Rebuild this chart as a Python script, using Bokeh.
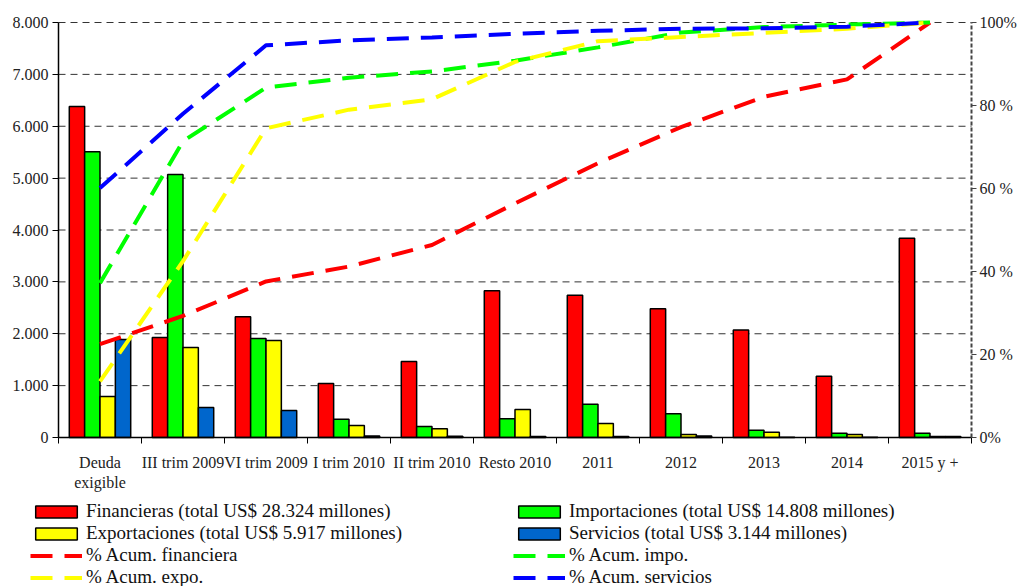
from bokeh.plotting import figure
from bokeh.models import (Range1d, LinearAxis, FixedTicker, Legend, LegendItem,
                          ColumnDataSource)
from bokeh.transform import dodge
from bokeh.embed import file_html
from bokeh.resources import INLINE

# ---------------- data ----------------
categories = ["Deuda\nexigible", "III trim 2009", "VI trim 2009", "I trim 2010",
              "II trim 2010", "Resto 2010", "2011", "2012", "2013", "2014", "2015 y +"]
financieras = [6380, 1930, 2330, 1040, 1465, 2830, 2740, 2480, 2070, 1180, 3840]
importaciones = [5510, 5070, 1910, 350, 210, 360, 640, 460, 140, 80, 80]
exportaciones = [790, 1735, 1870, 230, 170, 540, 270, 60, 100, 60, 20]
servicios = [1890, 580, 520, 30, 25, 20, 20, 30, 5, 5, 20]

acum_fin = [22.5, 29.3, 37.6, 41.2, 46.4, 56.4, 66.1, 74.8, 82.1, 86.3, 100]
acum_impo = [37.2, 71.4, 84.3, 86.7, 88.2, 90.8, 94.0, 97.6, 98.9, 99.5, 100]
acum_expo = [13.5, 42.5, 74.5, 79.0, 81.5, 90.5, 95.5, 96.5, 97.5, 98.5, 100]
acum_serv = [60.1, 78.0, 94.5, 95.7, 96.4, 97.3, 98.0, 98.5, 98.6, 99.0, 100]

left_ticks = [0, 1000, 2000, 3000, 4000, 5000, 6000, 7000, 8000]
left_labels = ["0", "1.000", "2.000", "3.000", "4.000", "5.000", "6.000", "7.000", "8.000"]
right_ticks = [0, 20, 40, 60, 80, 100]
right_labels = ["0%", "20 %", "40 %", "60 %", "80 %", "100%"]

series_labels = ["Financieras (total US$ 28.324 millones)",
                 "Importaciones (total US$ 14.808 millones)",
                 "Exportaciones (total US$ 5.917 millones)",
                 "Servicios (total US$ 3.144 millones)",
                 "% Acum. financiera", "% Acum. impo.",
                 "% Acum. expo.", "% Acum. servicios"]

# ---------------- layout constants (pixels) ----------------
W, H = 1025, 586
PLOT_L, PLOT_R, PLOT_T, PLOT_B = 58, 971, 22, 437
YMAX, PMAX = 8000, 100

n = len(categories)
centers = [i + 0.5 for i in range(n)]
bounds = [float(i) for i in range(n + 1)]

upx = n / (PLOT_R - PLOT_L)
x_rng = Range1d(-PLOT_L * upx, n + (W - PLOT_R) * upx)
ypx = YMAX / (PLOT_B - PLOT_T)
y_rng = Range1d(-(H - PLOT_B) * ypx, YMAX + PLOT_T * ypx)
ppx = PMAX / (PLOT_B - PLOT_T)
p_rng = Range1d(-(H - PLOT_B) * ppx, PMAX + PLOT_T * ppx)

src = ColumnDataSource(dict(x=centers, fin=financieras, imp=importaciones,
                            exp=exportaciones, ser=servicios,
                            afin=acum_fin, aimp=acum_impo, aexp=acum_expo, aser=acum_serv))

FONT = "Liberation Serif"

p = figure(width=W, height=H, x_range=x_rng, y_range=y_rng,
           x_axis_location=None, y_axis_location=None,
           output_backend="svg", toolbar_location=None,
           min_border=0, min_border_left=0, min_border_right=0,
           min_border_top=0, min_border_bottom=0)
p.outline_line_color = None
p.background_fill_color = "white"
p.grid.visible = False
p.extra_y_ranges = {"pct": p_rng}

# dashed horizontal grid lines (limited to the plot area, as in the original)
grid_y = left_ticks[1:]
p.segment(x0=[0] * len(grid_y), x1=[n] * len(grid_y), y0=grid_y, y1=grid_y,
          line_color="#333333", line_dash="7 5", line_width=1)

# x axis
xa = LinearAxis(fixed_location=0, bounds=(0, n),
                ticker=FixedTicker(ticks=centers, minor_ticks=bounds))
xa.major_label_overrides = {c: lab for c, lab in zip(centers, categories)}
xa.major_tick_out = 0
xa.major_tick_in = 0
xa.minor_tick_out = 6
xa.minor_tick_in = 0
xa.minor_tick_line_color = "black"
xa.axis_line_color = "black"
xa.axis_line_width = 1.5
xa.major_label_text_font = FONT
xa.major_label_text_font_size = "16px"
xa.major_label_text_color = "#222222"
xa.major_label_standoff = 10
p.add_layout(xa, "below")

# left axis
ya = LinearAxis(fixed_location=0, bounds=(0, YMAX), ticker=FixedTicker(ticks=left_ticks))
ya.major_label_overrides = {t: l for t, l in zip(left_ticks, left_labels)}
ya.major_tick_out = 6
ya.major_tick_in = 0
ya.minor_tick_line_color = None
ya.axis_line_color = "black"
ya.axis_line_width = 1.5
ya.major_label_text_font = FONT
ya.major_label_text_font_size = "16px"
ya.major_label_text_color = "#222222"
ya.major_label_standoff = 4
p.add_layout(ya, "left")

# right axis (dashed grey line as in the original)
ra = LinearAxis(y_range_name="pct", fixed_location=n, bounds=(0, PMAX),
                ticker=FixedTicker(ticks=right_ticks))
ra.major_label_overrides = {t: l for t, l in zip(right_ticks, right_labels)}
ra.major_tick_out = 5
ra.major_tick_in = 0
ra.minor_tick_line_color = None
ra.axis_line_color = "#444444"
ra.axis_line_width = 2
ra.axis_line_dash = "4 2"
ra.major_tick_line_color = "#444444"
ra.major_label_text_font = FONT
ra.major_label_text_font_size = "16px"
ra.major_label_text_color = "#222222"
ra.major_label_standoff = 3
p.add_layout(ra, "right")

# bars
w = 0.185
bar_specs = [("fin", "#FF0000", -1.5), ("imp", "#00FF00", -0.5),
             ("exp", "#FFFF00", 0.5), ("ser", "#0066CC", 1.5)]
bars = []
for col, color, off in bar_specs:
    r = p.vbar(x=dodge("x", off * w), top=col, bottom=0, width=w,
               source=src, fill_color=color, line_color="black", line_width=1.5)
    bars.append(r)

# cumulative lines
line_specs = [("afin", "#FF0000"), ("aimp", "#00FF00"), ("aexp", "#FFFF00"), ("aser", "#0000FF")]
lines = []
for col, color in line_specs:
    r = p.line(x="x", y=col, source=src, y_range_name="pct", line_color=color,
               line_width=4, line_dash="22 12")
    lines.append(r)

items = [LegendItem(label=lab, renderers=[r]) for lab, r in
         zip(series_labels, [bars[0], bars[1], bars[2], bars[3],
                             lines[0], lines[1], lines[2], lines[3]])]

legend = Legend(items=items, location=(30, -2), orientation="horizontal",
                nrows=4, ncols=2,
                glyph_width=52, glyph_height=15, label_height=16, label_width=427,
                label_standoff=4, spacing=0, padding=0, margin=0,
                border_line_color=None, background_fill_alpha=0,
                label_text_font=FONT, label_text_font_size="19px",
                label_text_color="#111111")
p.add_layout(legend, "center")

open("out.html", "w").write(file_html(p, INLINE))
